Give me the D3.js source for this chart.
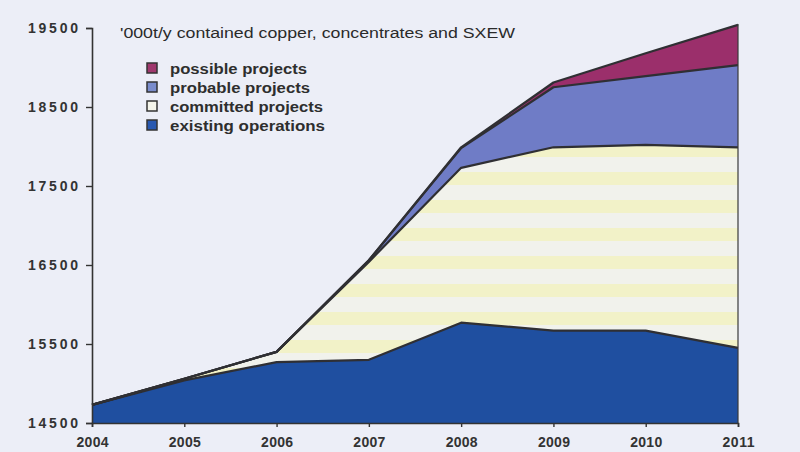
<!DOCTYPE html>
<html>
<head>
<meta charset="utf-8">
<script src="https://cdn.jsdelivr.net/npm/d3@7"></script>
<style>
  body { margin: 0; background: #eceef7; }
  svg { display: block; }
</style>
</head>
<body>
<div id="chart"></div>
<script>
// data ('000t/y)
const years = [2004, 2005, 2006, 2007, 2008, 2009, 2010, 2011];
const existing  = [14730, 15040, 15270, 15300, 15770, 15670, 15670, 15450];
const committed = [0, 20, 130, 1240, 1960, 2320, 2350, 2540];
const probable  = [0, 0, 0, 20, 250, 760, 870, 1040];
const possible  = [0, 0, 0, 0, 10, 60, 290, 510];
const yTicks = [14500, 15500, 16500, 17500, 18500, 19500];
const seriesKeys = ["existing", "committed", "probable", "possible"];
const legendLabels = ["possible projects", "probable projects", "committed projects", "existing operations"];

const rows = years.map((y, i) => ({
  year: y,
  existing: existing[i],
  committed: committed[i],
  probable: probable[i],
  possible: possible[i]
}));

const width = 800, height = 452;
const margin = {top: 28, right: 62, bottom: 29, left: 92};
const font = "'Liberation Sans', Arial, sans-serif";

const svg = d3.select("#chart")
  .append("svg")
  .attr("width", width)
  .attr("height", height);

// striped fill for the committed layer, like the scan
const defs = svg.append("defs");
const pat = defs.append("pattern")
  .attr("id", "stripes")
  .attr("patternUnits", "userSpaceOnUse")
  .attr("width", 10)
  .attr("height", 28);
pat.append("rect").attr("width", 10).attr("height", 28).attr("fill", "#f1f2ec");
pat.append("rect").attr("y", 4).attr("width", 10).attr("height", 13).attr("fill", "#f2f2c8");

const colors = {
  existing: "#1f4fa0",
  committed: "url(#stripes)",
  probable: "#6f7cc6",
  possible: "#9b2f6b"
};
const legendColors = {
  existing: "#2858b0",
  committed: "#f4f4ea",
  probable: "#7a8ccc",
  possible: "#a0386e"
};

const x = d3.scaleLinear()
  .domain([2004, 2011])
  .range([margin.left, width - margin.right]);

const y = d3.scaleLinear()
  .domain([14500, 19500])
  .range([height - margin.bottom, margin.top]);

// stack: the existing layer is clipped at the axis minimum
const stack = d3.stack().keys(seriesKeys);
const layers = stack(rows);

const area = d3.area()
  .x(d => x(d.data.year))
  .y0(d => y(Math.max(d[0], 14500)))
  .y1(d => y(d[1]));

const line = d3.line()
  .x(d => x(d.data.year))
  .y(d => y(d[1]));

svg.append("g")
  .selectAll("path")
  .data(layers)
  .join("path")
    .attr("d", area)
    .attr("fill", d => colors[d.key]);

svg.append("g")
  .selectAll("path")
  .data(layers)
  .join("path")
    .attr("d", line)
    .attr("fill", "none")
    .attr("stroke", "#2f2f33")
    .attr("stroke-width", 2.2)
    .attr("stroke-linejoin", "round");

// right border of the plot
svg.append("line")
  .attr("x1", x(2011)).attr("x2", x(2011))
  .attr("y1", y(19550)).attr("y2", y(14500))
  .attr("stroke", "#3a3a3a")
  .attr("stroke-width", 1.2);

// axes
const yAxis = svg.append("g")
  .attr("transform", `translate(${margin.left},0)`)
  .call(d3.axisLeft(y).tickValues(yTicks).tickSize(6).tickFormat(d3.format("d")));

const xAxis = svg.append("g")
  .attr("transform", `translate(0,${height - margin.bottom})`)
  .call(d3.axisBottom(x).tickValues(years).tickSize(4).tickFormat(d3.format("d")));

[xAxis, yAxis].forEach(g => {
  g.select(".domain").attr("stroke", "#333").attr("stroke-width", 1.6);
  g.selectAll(".tick line").attr("stroke", "#333").attr("stroke-width", 1.4);
  g.selectAll("text")
    .attr("fill", "#333")
    .style("font-family", font)
    .style("font-size", "14px")
    .style("font-weight", "bold");
});
yAxis.selectAll("text")
  .attr("x", -14)
  .attr("dy", "0.35em")
  .attr("textLength", 50)
  .attr("lengthAdjust", "spacing");
xAxis.selectAll("text")
  .attr("y", 14)
  .attr("dy", "0.71em")
  .attr("textLength", 32)
  .attr("lengthAdjust", "spacing");

// title
svg.append("text")
  .attr("x", 120)
  .attr("y", 38)
  .attr("fill", "#2a2a2a")
  .attr("textLength", 395)
  .attr("lengthAdjust", "spacingAndGlyphs")
  .style("font-family", font)
  .style("font-size", "15.5px")
  .text("'000t/y contained copper, concentrates and SXEW");

// legend
const legendKeys = ["possible", "probable", "committed", "existing"];
const legendWidths = [137, 140, 153, 155];
const legend = svg.append("g").attr("transform", "translate(147,63)");
legendKeys.forEach((k, i) => {
  const g = legend.append("g").attr("transform", `translate(0,${i * 19})`);
  g.append("rect")
    .attr("width", 10).attr("height", 10)
    .attr("fill", legendColors[k])
    .attr("stroke", "#333")
    .attr("stroke-width", 1.5);
  g.append("text")
    .attr("x", 23)
    .attr("y", 10.5)
    .attr("fill", "#2e2e2e")
    .attr("textLength", legendWidths[i])
    .attr("lengthAdjust", "spacingAndGlyphs")
    .style("font-family", font)
    .style("font-size", "14.5px")
    .style("font-weight", "bold")
    .text(legendLabels[i]);
});
</script>
</body>
</html>
